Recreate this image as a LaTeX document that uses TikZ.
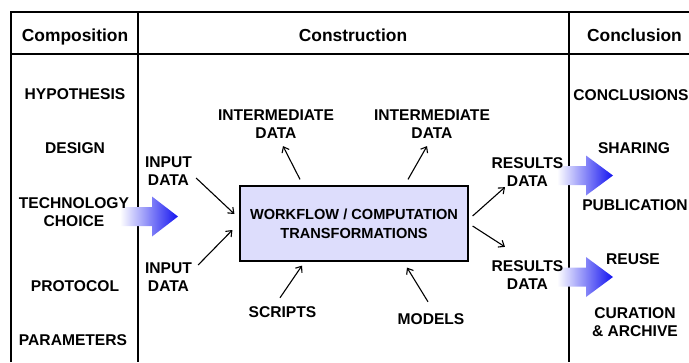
\documentclass[tikz,border=0pt]{standalone}
\usepackage{fontspec}
\setmainfont{Liberation Sans}
\usetikzlibrary{arrows.meta,calc}
\definecolor{flowfill}{RGB}{221,221,252}
\definecolor{bigblue}{RGB}{20,20,240}

\begin{document}
\begin{tikzpicture}[
      x=1pt,y=-1pt,
      head/.style={font=\bfseries\fontsize{17.4}{20}\selectfont,inner sep=0pt,anchor=base},
      lbl/.style={font=\bfseries\fontsize{15.6}{18}\selectfont,align=center,inner sep=0pt},
      box/.style={draw,line width=1.2pt,fill=flowfill,minimum width=228pt,minimum height=75pt,inner sep=0pt,align=center,font=\bfseries\fontsize{14.6}{19}\selectfont},
      arrow/.style={-{Straight Barb[length=5pt,width=8pt]},line width=1.1pt},
      frame/.style={line width=1.6pt},
      fat/.style={left color=white,right color=bigblue}
    ]
      \useasboundingbox (0,0) rectangle (689,362);
      % table frame
      \draw[frame] (11,362) -- (11,12) -- (689,12);
      \draw[frame] (11,54) -- (689,54);
      \draw[frame] (138,12) -- (138,362);
      \draw[frame] (569,12) -- (569,362);
      % fat arrows
      \shade[fat] (120,207) -- (152,207) -- (152,196.5) -- (178,216.5) -- (152,236.5) -- (152,226) -- (120,226) -- cycle;
      \foreach \y in {175.5,277}
        \shade[fat] (557,\y-9.5) -- (586,\y-9.5) -- (586,\y-20) -- (613,\y) -- (586,\y+20) -- (586,\y+9.5) -- (557,\y+9.5) -- cycle;
      % headers
      \node[head] (hcomp) at (75,41) {Composition};
      \node[head] (hcons) at (353,41) {Construction};
      \node[head] (hconc) at (634.5,41) {Conclusion};
      % composition column
      \node[lbl] (hyp) at (75,94) {HYPOTHESIS};
      \node[lbl] (design) at (75,148) {DESIGN};
      \node[lbl] (tech) at (74,212) {TECHNOLOGY\\CHOICE};
      \node[lbl] (proto) at (75,286) {PROTOCOL};
      \node[lbl] (param) at (73,340) {PARAMETERS};
      % conclusion column
      \node[lbl] (concl) at (631,95) {CONCLUSIONS};
      \node[lbl] (share) at (634,148) {SHARING};
      \node[lbl] (publ) at (635,205) {PUBLICATION};
      \node[lbl] (reuse) at (633,259) {REUSE};
      \node[lbl] (cur) at (635,322) {CURATION\\\& ARCHIVE};
      % construction
      \node[box] (flow) at (354,223.5) {WORKFLOW / COMPUTATION\\TRANSFORMATIONS};
      \node[lbl] (inA) at (168.5,171) {INPUT\\DATA};
      \node[lbl] (inB) at (168.5,277) {INPUT\\DATA};
      \node[lbl] (imA) at (276,124) {INTERMEDIATE\\DATA};
      \node[lbl] (imB) at (432,124) {INTERMEDIATE\\DATA};
      \node[lbl] (scripts) at (282.5,312.5) {SCRIPTS};
      \node[lbl] (models) at (431,319) {MODELS};
      \node[lbl] (resA) at (527.5,172) {RESULTS\\DATA};
      \node[lbl] (resB) at (527.5,275.5) {RESULTS\\DATA};
      \draw[arrow] ($(inA.east)+(4,7)$) -- ($(flow.west)+(-5,-9.5)$);
      \draw[arrow] ($(inB.east)+(6,-12)$) -- ($(flow.west)+(-7,6.5)$);
      \draw[arrow] ($(flow.north)+(-54,-6)$) -- ($(imA.south)+(7,7.5)$);
      \draw[arrow] ($(flow.north)+(54,-6)$) -- ($(imB.south)+(-5,7.5)$);
      \draw[arrow] ($(scripts.north)+(-2.5,-9)$) -- ($(flow.south)+(-52,4)$);
      \draw[arrow] ($(models.north)+(-3,-11.5)$) -- ($(flow.south)+(53,6)$);
      \draw[arrow] ($(flow.east)+(4,-7.5)$) -- ($(resA.south west)+(13.5,0.5)$);
      \draw[arrow] ($(flow.east)+(4,2.5)$) -- ($(resB.north west)+(13.5,-14)$);
    \end{tikzpicture}
\end{document}
